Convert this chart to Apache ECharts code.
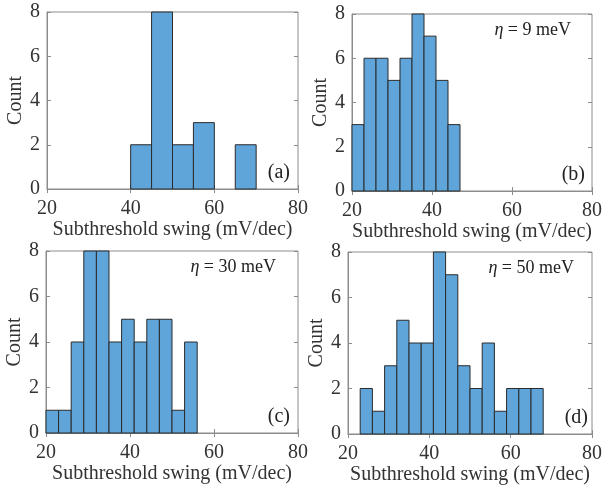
<!DOCTYPE html>
<html lang="en">
<head>
    <meta charset="utf-8" />
    <title>Subthreshold swing histograms</title>
    <script src="https://cdn.jsdelivr.net/npm/echarts@6/dist/echarts.min.js"></script>
    <style>
        html, body { margin: 0; background: #FFFFFF; }
        #chart { width: 605px; height: 488px; }
    </style>
</head>
<body>
<div id="chart"></div>
<script>
// bin edges and counts
var edgesA = [40, 45, 50, 55, 60, 65, 70];
var countsA = [2, 8, 2, 3, 0, 2];
var edgesB = [20, 23, 26, 29, 32, 35, 38, 41, 44, 47];
var countsB = [3, 6, 6, 5, 6, 8, 7, 5, 3];
var edgesC = [20, 23, 26, 29, 32, 35, 38, 41, 44, 47, 50, 53, 56];
var countsC = [1, 1, 4, 8, 8, 4, 5, 4, 5, 5, 1, 4];
var edgesD = [23, 26, 29, 32, 35, 38, 41, 44, 47, 50, 53, 56, 59, 62, 65, 68];
var countsD = [2, 1, 3, 5, 4, 4, 8, 7, 3, 2, 4, 1, 2, 2, 2];

var panelTags = ['(a)', '(b)', '(c)', '(d)'];
var etaNotes = ['', '{i|\u03b7} = 9 meV', '{i|\u03b7} = 30 meV', '{i|\u03b7} = 50 meV'];
var xLabel = 'Subthreshold swing (mV/dec)';
var yLabel = 'Count';

var FONT = '"Liberation Serif", "Times New Roman", serif';
var BAR = '#5fa5da';
var BOX = '#8c8c8c';

var grids = [
    { left: 47, top: 12, width: 251, height: 177 },
    { left: 352, top: 14, width: 241, height: 177 },
    { left: 46, top: 251, width: 252, height: 182 },
    { left: 348, top: 252, width: 248, height: 182 }
];
var sets = [[edgesA, countsA], [edgesB, countsB], [edgesC, countsC], [edgesD, countsD]];

var xAxes = [], yAxes = [], series = [], graphic = [];

grids.forEach(function (g, i) {
    g.show = true;
    g.borderColor = BOX;
    g.borderWidth = 1;
    g.containLabel = false;

    var tickStyle = { show: true, inside: true, length: 4, lineStyle: { color: BOX } };
    xAxes.push({
        type: 'value', gridIndex: i, min: 20, max: 80, interval: 20,
        name: xLabel, nameLocation: 'middle', nameGap: 21,
        nameTextStyle: { fontFamily: FONT, fontSize: 20, color: '#333' },
        axisLine: { lineStyle: { color: BOX } },
        axisTick: tickStyle,
        axisLabel: { fontFamily: FONT, fontSize: 20, color: '#333', margin: 10 },
        splitLine: { show: false }
    });
    xAxes.push({
        type: 'value', gridIndex: i, position: 'top', min: 20, max: 80, interval: 20,
        axisLine: { show: false }, axisTick: tickStyle,
        axisLabel: { show: false }, splitLine: { show: false }
    });
    yAxes.push({
        type: 'value', gridIndex: i, min: 0, max: 8, interval: 2,
        name: yLabel, nameLocation: 'middle', nameGap: 19,
        nameTextStyle: { fontFamily: FONT, fontSize: 20, color: '#333' },
        axisLine: { show: true, lineStyle: { color: BOX } },
        axisTick: tickStyle,
        axisLabel: { fontFamily: FONT, fontSize: 20, color: '#333', margin: 7 },
        splitLine: { show: false }
    });
    yAxes.push({
        type: 'value', gridIndex: i, position: 'right', min: 0, max: 8, interval: 2,
        axisLine: { show: false }, axisTick: tickStyle,
        axisLabel: { show: false }, splitLine: { show: false }
    });

    var edges = sets[i][0], counts = sets[i][1];
    var data = counts.map(function (c, k) { return [edges[k], edges[k + 1], c]; });
    series.push({
        type: 'custom',
        xAxisIndex: i * 2,
        yAxisIndex: i * 2,
        data: data,
        renderItem: function (params, api) {
            var c = api.value(2);
            if (!c) return null;
            var p0 = api.coord([api.value(0), c]);
            var p1 = api.coord([api.value(1), 0]);
            return {
                type: 'rect',
                shape: { x: p0[0], y: p0[1], width: p1[0] - p0[0], height: p1[1] - p0[1] },
                style: { fill: BAR, stroke: '#2b2b2b', lineWidth: 1 }
            };
        }
    });

    // panel tag at bottom right
    graphic.push({
        type: 'text',
        right: 605 - (g.left + g.width) + 8,
        top: g.top + g.height - 26,
        style: { text: panelTags[i], font: '20px ' + FONT, fill: '#222' }
    });
    if (etaNotes[i]) {
        graphic.push({
            type: 'text',
            right: 605 - (g.left + g.width) + 22,
            top: g.top + 7,
            style: {
                text: etaNotes[i], font: '18px ' + FONT, fill: '#222',
                rich: { i: { fontStyle: 'italic', fontFamily: FONT, fontSize: 18 } }
            }
        });
    }
});

var chart = echarts.init(document.getElementById('chart'), null, { renderer: 'canvas' });
chart.setOption({
    backgroundColor: '#FFFFFF',
    animation: false,
    grid: grids,
    xAxis: xAxes,
    yAxis: yAxes,
    series: series,
    graphic: graphic
});
</script>
</body>
</html>
